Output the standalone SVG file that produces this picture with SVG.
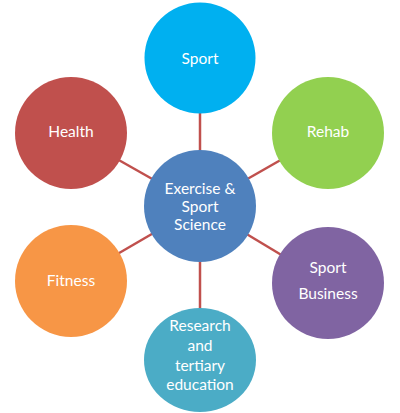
<svg xmlns="http://www.w3.org/2000/svg" width="400" height="413" viewBox="0 0 400 413">
<style>
.c{stroke:none}
.t{font-family:Lato,"Liberation Sans",sans-serif;font-size:15.5px;fill:#ffffff;text-anchor:middle}
.l{stroke:#C0504D;stroke-width:2.5;fill:none}
</style>
<rect width="400" height="413" fill="#ffffff"/>
<g id="connectors">
<line class="l" x1="200" y1="206" x2="200" y2="58"/>
<line class="l" x1="200" y1="206" x2="200" y2="360"/>
<line class="l" x1="200" y1="206" x2="71" y2="133"/>
<line class="l" x1="200" y1="206" x2="328" y2="133"/>
<line class="l" x1="200" y1="206" x2="71" y2="281"/>
<line class="l" x1="200" y1="206" x2="328" y2="283"/>
</g>
<g id="sport"><circle class="c" cx="200" cy="58" r="55.5" fill="#00B0F0"/><text class="t" x="200" y="64">Sport</text></g>
<g id="health"><circle class="c" cx="71" cy="133" r="56" fill="#C0504D"/><text class="t" x="71" y="137">Health</text></g>
<g id="rehab"><circle class="c" cx="328" cy="133" r="56" fill="#92D050"/><text class="t" x="328" y="137">Rehab</text></g>
<g id="center"><circle class="c" cx="200" cy="206" r="56" fill="#4F81BD"/><text class="t" x="200" y="194">Exercise &amp;</text><text class="t" x="200" y="212">Sport</text><text class="t" x="200" y="230">Science</text></g>
<g id="fitness"><circle class="c" cx="71" cy="281" r="56" fill="#F79646"/><text class="t" x="71" y="286">Fitness</text></g>
<g id="business"><circle class="c" cx="328" cy="283" r="56" fill="#8064A2"/><text class="t" x="328" y="273">Sport</text><text class="t" x="328" y="299">Business</text></g>
<g id="research"><ellipse class="c" cx="200" cy="360" rx="56" ry="52" fill="#4BACC6"/><text class="t" x="200" y="331">Research</text><text class="t" x="200" y="351">and</text><text class="t" x="200" y="371">tertiary</text><text class="t" x="200" y="390">education</text></g>
</svg>
